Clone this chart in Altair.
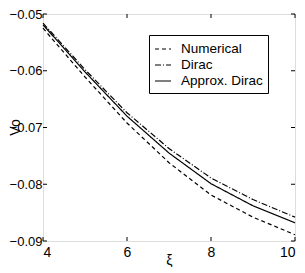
import altair as alt
import pandas as pd

xi = [4, 5, 6, 7, 8, 9, 10]
numerical = [-0.0525, -0.0611, -0.0692, -0.0762, -0.0819, -0.0858, -0.0889]
dirac = [-0.0516, -0.0598, -0.0674, -0.0737, -0.0789, -0.0827, -0.0858]
approx = [-0.0519, -0.0602, -0.0680, -0.0745, -0.0799, -0.0838, -0.0868]

series_names = ["Numerical", "Dirac", "Approx. Dirac"]
x_ticks = [4, 6, 8, 10]
y_ticks = [-0.09, -0.08, -0.07, -0.06, -0.05]

rows = []
for name, vals in zip(series_names, [numerical, dirac, approx]):
    for xv, yv in zip(xi, vals):
        rows.append({"xi": xv, "Vo": yv, "series": name})
df = pd.DataFrame(rows)

FONT = "Liberation Sans"
W, H = 252, 227

xscale = alt.Scale(domain=[4, 10], nice=False, zero=False)
yscale = alt.Scale(domain=[-0.09, -0.05], nice=False, zero=False)

xaxis = alt.Axis(values=x_ticks, title="ξ", format="d", tickSize=0,
                 domain=False, grid=False, labelPadding=4,
                 labelFont=FONT, labelFontSize=14, labelColor="black",
                 titleFont=FONT, titleColor="black",
                 titleY=12, titleBaseline="top", titleFontWeight="normal",
                 titleFontSize=14)
yaxis = alt.Axis(values=y_ticks, title="Vo", format=".2f", tickSize=0,
                 domain=False, grid=False, labelPadding=1,
                 labelFont=FONT, labelFontSize=13, labelColor="black",
                 titleFont=FONT, titleColor="black",
                 titleX=-21, titleY=113, titleFontWeight="normal",
                 titleFontSize=14)

legend_opts = dict(orient="none", legendX=106, legendY=21, title=None,
                   symbolType="stroke", symbolSize=256,
                   symbolStrokeWidth=1.2, labelFontSize=13.5,
                   labelFont=FONT, labelColor="black", strokeColor="black",
                   fillColor="white", padding=5, rowPadding=0,
                   labelOffset=9, cornerRadius=0)

lines = alt.Chart(df).mark_line(strokeWidth=1.2).encode(
    x=alt.X("xi:Q", scale=xscale, axis=xaxis, title="ξ"),
    y=alt.Y("Vo:Q", scale=yscale, axis=yaxis, title="Vo"),
    color=alt.Color("series:N", sort=series_names,
                    scale=alt.Scale(domain=series_names, range=["black", "black", "black"]),
                    legend=alt.Legend(**legend_opts)),
    strokeDash=alt.StrokeDash("series:N", sort=series_names,
                              scale=alt.Scale(domain=series_names,
                                              range=[[4, 3], [6, 2, 1, 2], [1, 0]]),
                              legend=alt.Legend(**legend_opts)),
)

xt = pd.DataFrame({"t": x_ticks})
yt = pd.DataFrame({"t": y_ticks})

xtick_bottom = alt.Chart(xt).mark_rule(color="black", strokeWidth=1).encode(
    x=alt.X("t:Q", scale=xscale, axis=xaxis, title="ξ"), y=alt.value(H), y2=alt.value(H - 4))
xtick_top = alt.Chart(xt).mark_rule(color="black", strokeWidth=1).encode(
    x=alt.X("t:Q", scale=xscale, axis=xaxis, title="ξ"), y=alt.value(0), y2=alt.value(4))
ytick_left = alt.Chart(yt).mark_rule(color="black", strokeWidth=1).encode(
    y=alt.Y("t:Q", scale=yscale, axis=yaxis, title="Vo"), x=alt.value(0), x2=alt.value(4))
ytick_right = alt.Chart(yt).mark_rule(color="black", strokeWidth=1).encode(
    y=alt.Y("t:Q", scale=yscale, axis=yaxis, title="Vo"), x=alt.value(W), x2=alt.value(W - 4))

chart = alt.layer(lines, xtick_bottom, xtick_top, ytick_left, ytick_right).properties(
    width=W, height=H,
    autosize=alt.AutoSizeParams(type="none"),
    padding={"left": 35, "top": 6, "right": 2, "bottom": 26},
).configure_view(stroke="black", strokeWidth=1).configure(background="white")

chart.save("out.html", embed_options={"renderer": "svg", "actions": False})
